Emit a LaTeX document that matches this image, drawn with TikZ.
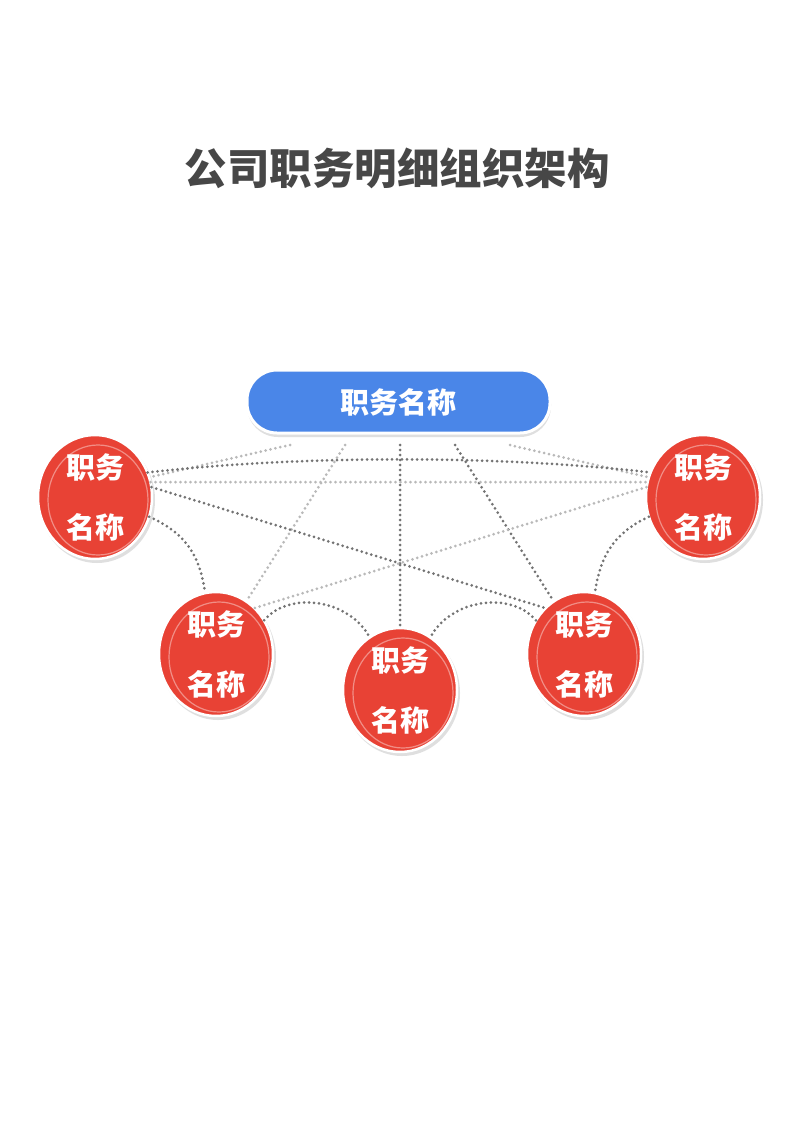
\documentclass[tikz,border=0pt]{standalone}
\usepackage{fontspec}
\usetikzlibrary{shapes.geometric}
\newfontfamily\cjk{Noto Sans CJK SC}
\begin{document}
\begin{tikzpicture}[x=1pt,y=-1pt,
  dl/.style={draw=gray!55, line width=3pt, line cap=round, dash pattern=on 0pt off 5pt},
  dk/.style={draw=gray!90!black, line width=3pt, line cap=round, dash pattern=on 0pt off 5pt},
  ball/.style={ellipse, minimum width=114pt, minimum height=124pt, inner sep=0pt},
  lbl/.style={text=white, font=\cjk\bfseries\fontsize{29}{60}\selectfont, align=center}]
\useasboundingbox (0,0) rectangle (800,1131);
\fill[white] (0,0) rectangle (800,1131);
\node[font=\cjk\bfseries\fontsize{42.5}{46}\selectfont, text=black!72] (title) at (397,168) {公司职务明细组织架构};
\definecolor{blu}{HTML}{4A86E8}
\definecolor{rd}{HTML}{E84235}
% top
\fill[gray!25, rounded corners=31pt] (247,373) rectangle (551,437);
\draw[fill=blu, draw=white, line width=3pt, rounded corners=30pt] (247,370) rectangle (550,433);
\node[lbl] (top) at (398,402) {职务名称};
\coordinate (t1) at (290,445);\coordinate (t2) at (345,445);\coordinate (t3) at (400,445);
\coordinate (t4) at (455,445);\coordinate (t5) at (510,445);
% balls
\foreach \n/\x/\y in {L/95/497, R/703/497, ML/216/654, M/400/690, MR/584/654}{
  \fill[gray!25] (\x+2,\y+3) ellipse [x radius=58, y radius=63];
  \draw[fill=rd, draw=white, line width=2.5pt] (\x,\y) ellipse [x radius=57, y radius=62];
  \draw[white!40!rd, line width=1.2pt] (\x+3,\y+3) ellipse [x radius=50, y radius=55];
  \node[ball, lbl] (\n) at (\x,\y) {职务\\名称};
}
% connectors
\draw[dl] (t1) -- (L.20);
\draw[dl] (t5) -- (R.160);
\draw[dl] (t2) -- (ML.60);
\draw[dk] (t3) -- (M.north);
\draw[dk] (t4) -- (MR.120);
\draw[dk] (L.25) .. controls (300,455) and (500,455) .. (R.155);
\draw[dl] (L.15) -- (R.165);
\draw[dk] (L.10) -- (MR.130);
\draw[dl] (R.170) -- (ML.50);
\draw[dk] (L.-20) .. controls (190,535) and (200,560) .. (ML.100);
\draw[dk] (R.200) .. controls (610,535) and (600,560) .. (MR.80);
\draw[dk] (ML.35) .. controls (290,590) and (350,600) .. (M.120);
\draw[dk] (MR.145) .. controls (510,590) and (450,600) .. (M.60);
\end{tikzpicture}
\end{document}
